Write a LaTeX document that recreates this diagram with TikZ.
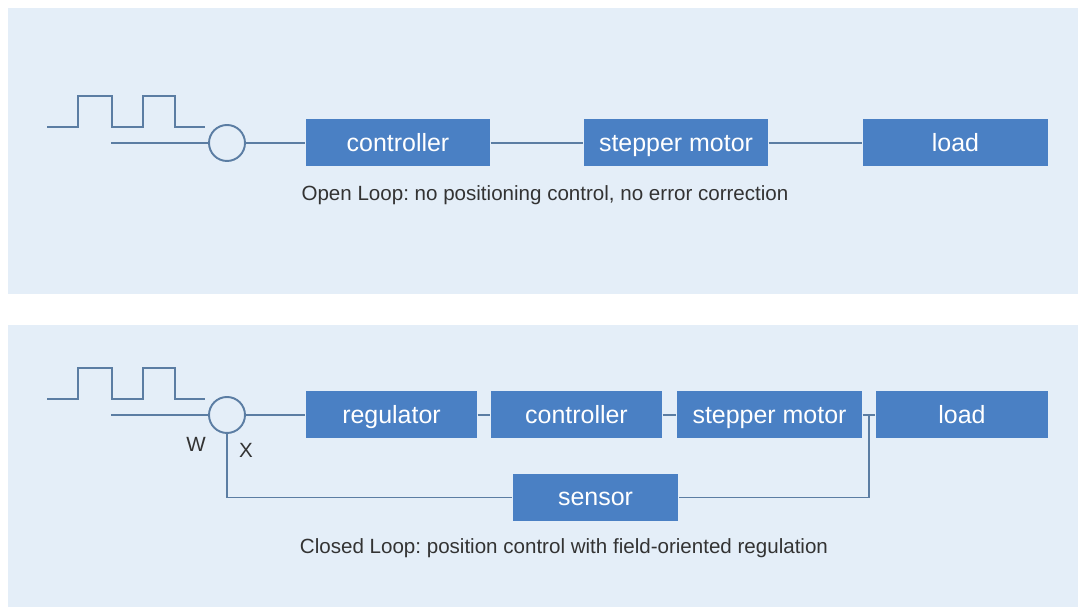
\documentclass[tikz,border=0pt]{standalone}
\usepackage{fontspec}
\setmainfont{Liberation Sans}
\usetikzlibrary{positioning}
\definecolor{panelblue}{HTML}{E4EEF8}
\definecolor{wireblue}{HTML}{5B7DA3}
\definecolor{boxblue}{HTML}{4A80C4}
\tikzset{
  blk/.style={fill=boxblue, text=white, minimum height=4.7mm, inner sep=0pt,
    text height=5.4pt, text depth=0.6pt, font=\fontsize{7.1}{8}\selectfont},
  sumpt/.style={circle, draw=wireblue, fill=panelblue, line width=0.55pt,
    minimum size=3.6mm, inner sep=0pt},
  wire/.style={draw=wireblue, line width=0.55pt},
  capt/.style={font=\fontsize{5.85}{7}\selectfont\frenchspacing, text=black!80},
}
\begin{document}
\begin{tikzpicture}[x=0.1mm, y=-0.1mm]
\useasboundingbox (0,0) rectangle (1078,607);
\fill[white] (0,0) rectangle (1078,607);
\fill[panelblue] (8,8) rectangle (1078,294);
\fill[panelblue] (8,325) rectangle (1078,607);
% Open loop
\draw[wire] (47,127) -| (78,96) -| (112,127) -| (143,96) -| (175,127) -- (205,127);
\coordinate (in1) at (111,143);
\node[sumpt] (sum1) at (227,143) {};
\node[blk, minimum width=18.4mm] (ctl1) at (398,143) {controller};
\node[blk, minimum width=18.4mm] (mot1) at (676,143) {stepper motor};
\node[blk, minimum width=18.5mm] (ld1) at (955.5,143) {load};
\draw[wire] (in1) -- (sum1);
\draw[wire] (sum1) -- (ctl1);
\draw[wire] (ctl1) -- (mot1);
\draw[wire] (mot1) -- (ld1);
\node[capt] (cap1) at (545,195) {Open Loop: no positioning control, no error correction};
% Closed loop
\draw[wire] (47,399) -| (78,368) -| (112,399) -| (143,368) -| (175,399) -- (205,399);
\coordinate (in2) at (111,415);
\node[sumpt] (sum2) at (227,415) {};
\node[blk, minimum width=17.1mm] (reg2) at (391.5,415) {regulator};
\node[blk, minimum width=17.1mm] (ctl2) at (576.5,415) {controller};
\node[blk, minimum width=18.5mm] (mot2) at (769.5,415) {stepper motor};
\node[blk, minimum width=17.2mm] (ld2) at (962,415) {load};
\node[blk, minimum width=16.5mm] (sen) at (595.5,497.5) {sensor};
\draw[wire] (in2) -- (sum2);
\draw[wire] (sum2) -- (reg2);
\draw[wire] (reg2) -- (ctl2);
\draw[wire] (ctl2) -- (mot2);
\draw[wire] (mot2) -- (ld2);
\coordinate (tap) at (869,415);
\draw[wire] (tap) |- (sen.east);
\draw[wire] (sen.west) -| (sum2.south);
\node[capt] (wlab) at (196,444) {W};
\node[capt] (xlab) at (246,450) {X};
\node[capt] (cap2) at (564,548) {Closed Loop: position control with field-oriented regulation};
\end{tikzpicture}
\end{document}
